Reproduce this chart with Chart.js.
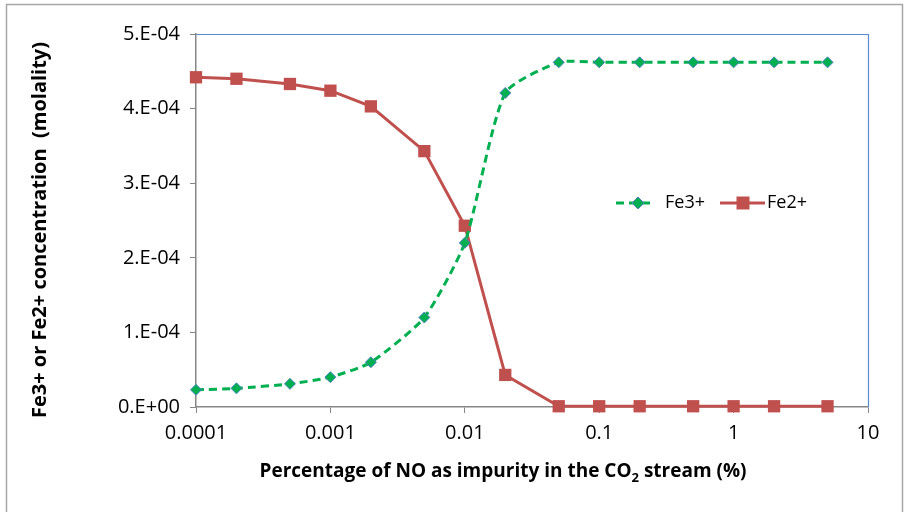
<!DOCTYPE html>
<html>
<head>
<meta charset="utf-8">
<script src="https://cdn.jsdelivr.net/npm/chart.js@4.4.0/dist/chart.umd.min.js"></script>
<style>
  html, body { margin: 0; padding: 0; background: #fff; }
  #wrap { width: 904px; height: 512px; }
</style>
</head>
<body>
<div id="wrap"><canvas id="myChart" width="904" height="512"></canvas></div>
<script>
// DATA
const noPercent = [0.0001, 0.0002, 0.0005, 0.001, 0.002, 0.005, 0.01, 0.02, 0.05, 0.1, 0.2, 0.5, 1, 2, 5];
const fe3 = [2.3e-5, 2.5e-5, 3.1e-5, 4.0e-5, 6.0e-5, 1.2e-4, 2.2e-4, 4.21e-4, 4.62e-4, 4.62e-4, 4.62e-4, 4.62e-4, 4.62e-4, 4.62e-4, 4.62e-4];
const fe2 = [4.42e-4, 4.40e-4, 4.33e-4, 4.24e-4, 4.03e-4, 3.43e-4, 2.43e-4, 4.3e-5, 1e-6, 1e-6, 1e-6, 1e-6, 1e-6, 1e-6, 1e-6];
const xTicks = [0.0001, 0.001, 0.01, 0.1, 1, 10];
const xTickLabels = ["0.0001", "0.001", "0.01", "0.1", "1", "10"];
const seriesNames = ["Fe3+", "Fe2+"];

const GREEN = "#00B050";
const RED = "#C0504D";
const BLUE = "#4F81BD";
const AXIS = "#868686";

// titles, legend and frame drawn on top
const decorations = {
  id: "decorations",
  afterDraw(chart) {
    const ctx = chart.ctx;
    const area = chart.chartArea;
    ctx.save();

    // outer chart border
    ctx.strokeStyle = "#A6A6A6";
    ctx.lineWidth = 1.5;
    ctx.strokeRect(6.5, 4.5, 896, 520);

    // blue top/right border of the plot area
    ctx.strokeStyle = "#5B8BD0";
    ctx.lineWidth = 1.2;
    ctx.beginPath();
    ctx.moveTo(area.left, area.top + 0.5);
    ctx.lineTo(area.right + 0.5, area.top + 0.5);
    ctx.lineTo(area.right + 0.5, area.bottom);
    ctx.stroke();

    // y title
    ctx.fillStyle = "#000";
    ctx.font = "bold 20px 'Open Sans'";
    ctx.textAlign = "center";
    ctx.textBaseline = "middle";
    ctx.save();
    ctx.translate(40, 230);
    ctx.rotate(-Math.PI / 2);
    ctx.fillText("Fe3+ or Fe2+ concentration  (molality)", 0, 0);
    ctx.restore();

    // x title with subscript
    const big = "bold 19px 'Open Sans'";
    const small = "bold 13px 'Open Sans'";
    const p1 = "Percentage of NO as impurity in the CO";
    const p2 = "2";
    const p3 = " stream (%)";
    ctx.font = big;
    const w1 = ctx.measureText(p1).width;
    const w3 = ctx.measureText(p3).width;
    ctx.font = small;
    const w2 = ctx.measureText(p2).width;
    let x = 503 - (w1 + w2 + w3) / 2;
    const ty = 472;
    ctx.textAlign = "left";
    ctx.font = big;
    ctx.fillText(p1, x, ty);
    x += w1;
    ctx.font = small;
    ctx.fillText(p2, x, ty + 6);
    x += w2;
    ctx.font = big;
    ctx.fillText(p3, x, ty);

    // legend
    const ly = 203;
    ctx.font = "18px 'Open Sans'";
    ctx.textBaseline = "middle";
    // Fe3+
    ctx.strokeStyle = GREEN;
    ctx.lineWidth = 3;
    ctx.setLineDash([8, 5]);
    ctx.beginPath();
    ctx.moveTo(616, ly);
    ctx.lineTo(655, ly);
    ctx.stroke();
    ctx.setLineDash([]);
    ctx.fillStyle = GREEN;
    ctx.strokeStyle = BLUE;
    ctx.lineWidth = 1;
    ctx.beginPath();
    ctx.moveTo(638 - 6, ly);
    ctx.lineTo(638, ly - 6);
    ctx.lineTo(638 + 6, ly);
    ctx.lineTo(638, ly + 6);
    ctx.closePath();
    ctx.fill();
    ctx.stroke();
    ctx.fillStyle = "#000";
    ctx.fillText(seriesNames[0], 665, ly);
    // Fe2+
    ctx.strokeStyle = RED;
    ctx.lineWidth = 3;
    ctx.beginPath();
    ctx.moveTo(720, ly);
    ctx.lineTo(765, ly);
    ctx.stroke();
    ctx.fillStyle = RED;
    ctx.fillRect(743 - 6.5, ly - 6.5, 13, 13);
    ctx.fillStyle = "#000";
    ctx.fillText(seriesNames[1], 767, ly);

    ctx.restore();
  }
};

const myChart = document.getElementById("myChart").getContext("2d");

const concChart = new Chart(myChart, {
  type: "line",
  data: {
    labels: noPercent,
    datasets: [
      {
        label: seriesNames[0],
        data: noPercent.map((x, i) => ({ x: x, y: fe3[i] })),
        borderColor: GREEN,
        borderWidth: 3,
        borderDash: [8, 5],
        pointStyle: "rectRot",
        pointRadius: 5.5,
        pointBackgroundColor: GREEN,
        pointBorderColor: BLUE,
        pointBorderWidth: 1,
        tension: 0.2,
        clip: false,
      },
      {
        label: seriesNames[1],
        data: noPercent.map((x, i) => ({ x: x, y: fe2[i] })),
        borderColor: RED,
        borderWidth: 3,
        pointStyle: "rect",
        pointRadius: 8.7,
        pointBackgroundColor: RED,
        pointBorderColor: RED,
        pointBorderWidth: 0,
        tension: 0,
        clip: false,
      },
    ],
  },
  options: {
    responsive: false,
    animation: false,
    layout: {
      padding: { left: 0, top: 34, right: 36, bottom: 0 },
    },
    plugins: {
      legend: { display: false },
      tooltip: { enabled: false },
    },
    scales: {
      x: {
        type: "logarithmic",
        min: 0.0001,
        max: 10,
        afterBuildTicks: (scale) => {
          scale.ticks = xTicks.map((v) => ({ value: v }));
        },
        afterFit: (scale) => {
          scale.height = 105;
        },
        ticks: {
          autoSkip: false,
          maxRotation: 0,
          padding: 8,
          color: "#000",
          font: { family: "'Open Sans'", size: 20 },
          callback: (value) => {
            const i = xTicks.indexOf(value);
            return i >= 0 ? xTickLabels[i] : "";
          },
        },
        grid: {
          drawOnChartArea: false,
          color: AXIS,
          tickLength: 6,
        },
        border: { color: AXIS, width: 1.5 },
      },
      y: {
        min: 0,
        max: 5e-4,
        afterFit: (scale) => {
          scale.width = 196;
        },
        ticks: {
          stepSize: 1e-4,
          padding: 10,
          color: "#000",
          font: { family: "'Open Sans'", size: 20 },
          callback: (value) => {
            const n = Math.round(value / 1e-4);
            return n === 0 ? "0.E+00" : n + ".E-04";
          },
        },
        grid: {
          drawOnChartArea: false,
          color: AXIS,
          tickLength: 6,
        },
        border: { color: AXIS, width: 1.5 },
      },
    },
  },
  plugins: [decorations],
});
</script>
</body>
</html>
